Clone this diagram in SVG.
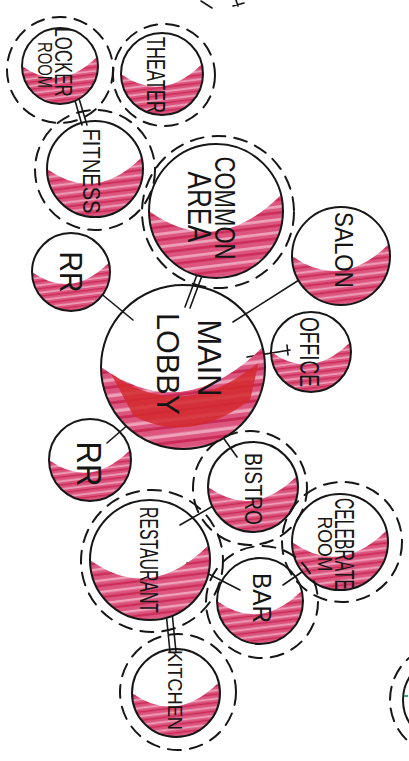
<svg xmlns="http://www.w3.org/2000/svg" width="409" height="761" viewBox="0 0 409 761">
<style>
.bub{fill:none;stroke:#161616;stroke-width:2}
.zone{fill:none;stroke:#161616;stroke-width:2;stroke-dasharray:13 9;stroke-linecap:round}
.ln{stroke:#161616;stroke-width:1.6;fill:none;stroke-linecap:round}
.lbl{font-family:"Liberation Sans","DejaVu Sans",sans-serif;fill:#151515;text-anchor:middle}
.fill{fill:url(#pk)}
</style>
<defs>
<pattern id="pk" width="2" height="0.19" patternUnits="userSpaceOnUse" patternTransform="rotate(-7)">
<rect x="-1" y="0" width="4" height="0.19" fill="#dc557f"/>
<rect x="-1" y="0.03" width="4" height="0.04" fill="#eea3bb"/>
<rect x="-1" y="0.12" width="4" height="0.035" fill="#c92a55"/>
</pattern>
<path id="cres" d="M -1,0 Q 0,0.72 0.97,-0.24 A 1 1 0 1 1 -1 0 Z"/>
</defs>
<rect width="409" height="761" fill="#ffffff"/>

<g id="fragments">
<path class="ln" d="M201,1 L212,8" stroke-width="2"/>
<path class="ln" d="M236,0 L238,6 M233,6 L244,3" stroke-width="2"/>
</g>

<g id="connectors">
<path class="ln" d="M72,90 L82,125 M77,92 L87,125"/>
<path class="ln" d="M206,265 L190,308 M201,264 L185,307"/>
<path class="ln" d="M310,273 L233,322"/>
<path class="ln" d="M247,357 L290,350 M287,345 L288,355"/>
<path class="ln" d="M93,287 L133,320"/>
<path class="ln" d="M137,417 L107,443"/>
<path class="ln" d="M212,422 L237,457"/>
<path class="ln" d="M220,502 L180,525"/>
<path class="ln" d="M187,563 L240,590"/>
<path class="ln" d="M283,585 L312,565"/>
<path class="ln" d="M165,602 L170,652 M171,602 L176,652"/>
</g>

<g id="locker-room">
<circle class="zone" cx="60" cy="70" r="53"/>
<use href="#cres" class="fill" transform="translate(60,66) scale(38)"/>
<circle class="bub" cx="60" cy="66" r="38"/>
<text class="lbl" transform="translate(55,62) rotate(90)" font-size="24" textLength="69" lengthAdjust="spacingAndGlyphs">LOCKER</text>
<text class="lbl" transform="translate(38,65) rotate(90)" font-size="20" textLength="46" lengthAdjust="spacingAndGlyphs">ROOM</text>
</g>

<g id="theater">
<circle class="zone" cx="164" cy="75" r="51"/>
<use href="#cres" class="fill" transform="translate(162,74) scale(41)"/>
<circle class="bub" cx="162" cy="74" r="41"/>
<text class="lbl" transform="translate(147,75) rotate(90)" font-size="25" textLength="76" lengthAdjust="spacingAndGlyphs">THEATER</text>
</g>

<g id="fitness">
<circle class="zone" cx="95" cy="170" r="60"/>
<use href="#cres" class="fill" transform="translate(95,169) scale(48)"/>
<circle class="bub" cx="95" cy="169" r="48"/>
<text class="lbl" transform="translate(83,171) rotate(90)" font-size="24" textLength="85" lengthAdjust="spacingAndGlyphs">FITNESS</text>
</g>

<g id="common-area">
<circle class="zone" cx="218" cy="212" r="76"/>
<use href="#cres" class="fill" transform="translate(216,211) scale(67)"/>
<circle class="bub" cx="216" cy="211" r="67"/>
<text class="lbl" transform="translate(215,208) rotate(90)" font-size="30" textLength="103" lengthAdjust="spacingAndGlyphs">COMMON</text>
<text class="lbl" transform="translate(188,207) rotate(90)" font-size="33" textLength="71" lengthAdjust="spacingAndGlyphs">AREA</text>
</g>

<g id="salon">
<use href="#cres" class="fill" transform="translate(341,256) scale(49)"/>
<circle class="bub" cx="341" cy="256" r="49"/>
<text class="lbl" transform="translate(335,250) rotate(90)" font-size="25" textLength="76" lengthAdjust="spacingAndGlyphs">SALON</text>
</g>

<g id="office">
<use href="#cres" class="fill" transform="translate(311,352) scale(40)"/>
<circle class="bub" cx="311" cy="352" r="40"/>
<text class="lbl" transform="translate(300,352) rotate(90)" font-size="27" textLength="70" lengthAdjust="spacingAndGlyphs">OFFICE</text>
</g>

<g id="main-lobby">
<use href="#cres" class="fill" transform="translate(183,367) scale(82)"/>
<path transform="translate(183,367) scale(82)" d="M -0.88,0.08 Q 0,0.7 0.92,-0.05 L 0.82,0.4 Q 0.1,0.95 -0.6,0.6 Z" fill="#d42a2e" opacity="0.85"/>
<circle class="bub" cx="183" cy="367" r="82"/>
<text class="lbl" transform="translate(198,358) rotate(90)" font-size="33" textLength="77" lengthAdjust="spacingAndGlyphs">MAIN</text>
<text class="lbl" transform="translate(157,364) rotate(90)" font-size="32" textLength="102" lengthAdjust="spacingAndGlyphs">LOBBY</text>
</g>

<g id="rr-top">
<use href="#cres" class="fill" transform="translate(71,272) scale(39)"/>
<circle class="bub" cx="71" cy="272" r="39"/>
<text class="lbl" transform="translate(60,272) rotate(90)" font-size="32" textLength="41" lengthAdjust="spacingAndGlyphs">RR</text>
</g>

<g id="rr-bottom">
<use href="#cres" class="fill" transform="translate(90,460) scale(41)"/>
<circle class="bub" cx="90" cy="460" r="41"/>
<text class="lbl" transform="translate(77,464) rotate(90)" font-size="35" textLength="45" lengthAdjust="spacingAndGlyphs">RR</text>
</g>

<g id="bistro">
<circle class="zone" cx="250" cy="488" r="57"/>
<use href="#cres" class="fill" transform="translate(253,487) scale(45)"/>
<circle class="bub" cx="253" cy="487" r="45"/>
<text class="lbl" transform="translate(245,489) rotate(90)" font-size="24" textLength="72" lengthAdjust="spacingAndGlyphs">BISTRO</text>
</g>

<g id="restaurant">
<circle class="zone" cx="152" cy="561" r="71"/>
<use href="#cres" class="fill" transform="translate(150,560) scale(60)"/>
<circle class="bub" cx="150" cy="560" r="60"/>
<text class="lbl" transform="translate(140,560) rotate(90)" font-size="25" textLength="106" lengthAdjust="spacingAndGlyphs">RESTAURANT</text>
</g>

<g id="celebrate-room">
<circle class="zone" cx="342" cy="542" r="60"/>
<use href="#cres" class="fill" transform="translate(340,542) scale(48)"/>
<circle class="bub" cx="340" cy="542" r="48"/>
<text class="lbl" transform="translate(335,544) rotate(90)" font-size="28" textLength="92" lengthAdjust="spacingAndGlyphs">CELEBRATE</text>
<text class="lbl" transform="translate(318,544) rotate(90)" font-size="21" textLength="55" lengthAdjust="spacingAndGlyphs">ROOM</text>
</g>

<g id="bar">
<circle class="zone" cx="262" cy="602" r="56"/>
<use href="#cres" class="fill" transform="translate(260,601) scale(43)"/>
<circle class="bub" cx="260" cy="601" r="43"/>
<text class="lbl" transform="translate(253,598) rotate(90)" font-size="26" textLength="50" lengthAdjust="spacingAndGlyphs">BAR</text>
</g>

<g id="kitchen">
<circle class="zone" cx="178" cy="692" r="58"/>
<use href="#cres" class="fill" transform="translate(176,693) scale(44)"/>
<circle class="bub" cx="176" cy="693" r="44"/>
<text class="lbl" transform="translate(168,690) rotate(90)" font-size="21" textLength="80" lengthAdjust="spacingAndGlyphs">KITCHEN</text>
</g>

<g id="partial-node">
<circle class="zone" cx="446" cy="700" r="56"/>
<circle class="bub" cx="446" cy="700" r="43"/>
<path d="M404,696 L408,696" stroke="#3aa86a" stroke-width="2"/>
</g>
</svg>
